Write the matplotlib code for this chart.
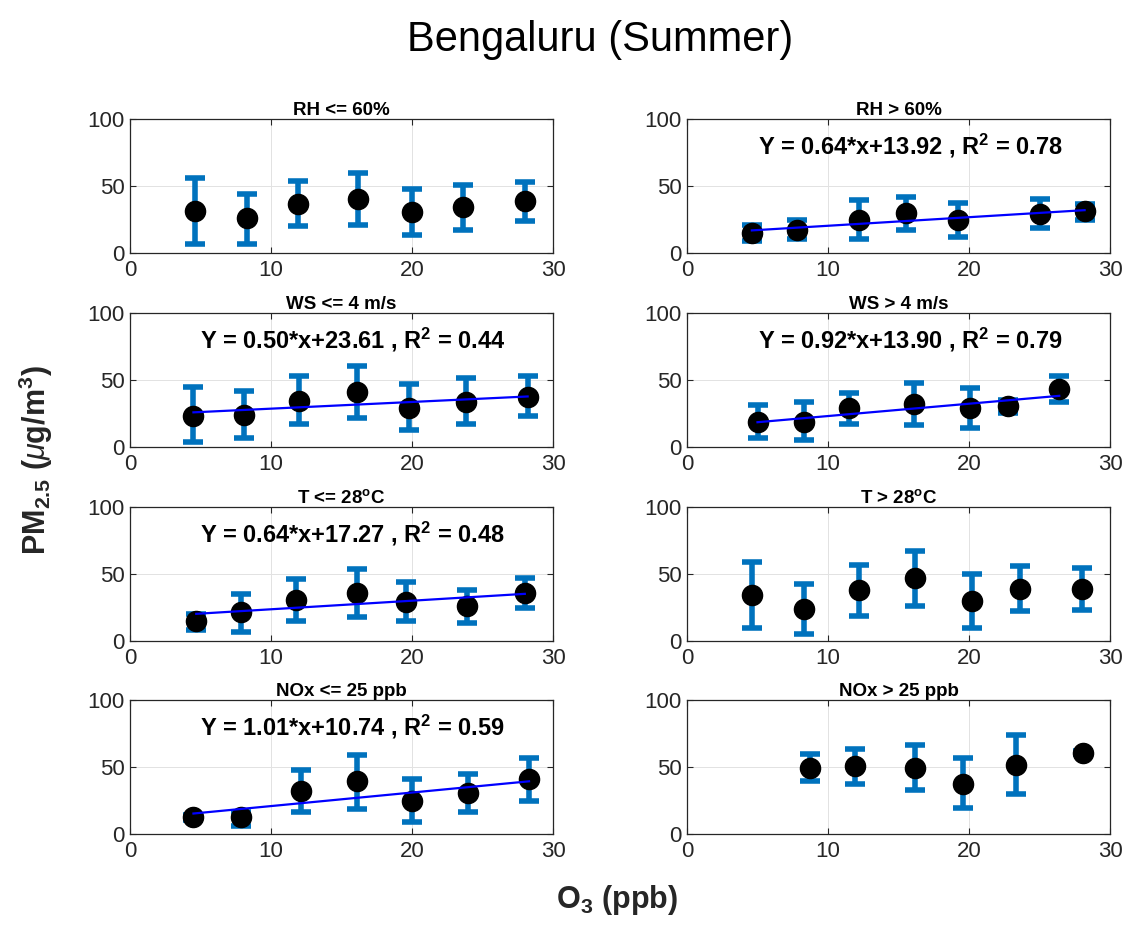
import numpy as np
import matplotlib
matplotlib.use("Agg")
import matplotlib.pyplot as plt

plt.rcParams['font.family'] = ['Liberation Sans', 'DejaVu Sans']
plt.rcParams['mathtext.fontset'] = 'custom'
plt.rcParams['mathtext.rm'] = 'Liberation Sans'
plt.rcParams['mathtext.bf'] = 'Liberation Sans:bold'
plt.rcParams['mathtext.it'] = 'Liberation Sans:italic'

# panel order: row by row, left then right
panel_titles = ["RH <= 60%", "RH > 60%",
                "WS <= 4 m/s", "WS > 4 m/s",
                r"T <= 28$^\mathbf{o}$C", r"T > 28$^\mathbf{o}$C",
                "NOx <= 25 ppb", "NOx > 25 ppb"]

o3 = [[4.6, 8.3, 11.9, 16.2, 20.0, 23.6, 28.0],
      [4.6, 7.8, 12.2, 15.5, 19.2, 25.0, 28.2],
      [4.5, 8.1, 12.0, 16.1, 19.8, 23.8, 28.2],
      [5.0, 8.3, 11.5, 16.1, 20.1, 22.8, 26.4],
      [4.7, 7.9, 11.8, 16.1, 19.6, 23.9, 28.0],
      [4.6, 8.3, 12.2, 16.2, 20.2, 23.6, 28.0],
      [4.5, 7.9, 12.1, 16.1, 20.0, 24.0, 28.3],
      [8.7, 11.9, 16.2, 19.6, 23.3, 28.1]]

pm = [[31.5, 25.8, 36.5, 40.3, 30.8, 34.0, 38.8],
      [15.0, 17.0, 25.0, 30.0, 24.5, 29.0, 31.0],
      [23.3, 23.8, 34.5, 41.3, 29.3, 33.8, 37.5],
      [18.3, 18.8, 28.8, 31.8, 28.8, 30.8, 43.0],
      [14.6, 21.4, 30.9, 35.9, 28.9, 25.9, 35.9],
      [34.2, 23.9, 37.7, 46.7, 30.2, 38.9, 38.9],
      [12.5, 12.5, 32.0, 39.3, 25.0, 30.5, 40.8],
      [49.3, 50.5, 49.3, 37.5, 51.8, 60.8]]

pm_top = [[55.8, 44.3, 54.0, 59.5, 47.8, 50.8, 52.8],
          [20.8, 24.5, 39.5, 41.5, 37.0, 40.3, 36.5],
          [45.0, 41.8, 53.3, 60.5, 46.8, 51.3, 53.0],
          [31.3, 33.8, 40.0, 47.5, 43.8, 35.0, 53.3],
          [20.1, 35.4, 46.0, 53.5, 44.2, 37.7, 46.7],
          [59.3, 42.7, 56.5, 67.3, 50.3, 56.0, 54.3],
          [14.5, 16.3, 48.0, 58.8, 41.3, 44.5, 56.8],
          [60.0, 63.3, 66.3, 57.0, 73.8, 61.8]]

pm_bot = [[7.0, 6.5, 20.0, 20.8, 13.3, 17.5, 24.0],
          [9.0, 10.3, 10.8, 17.5, 12.0, 18.8, 24.5],
          [3.8, 6.8, 16.8, 21.3, 12.5, 16.8, 23.0],
          [6.8, 5.0, 16.8, 16.3, 14.3, 25.0, 33.3],
          [8.3, 7.0, 15.0, 17.6, 14.6, 13.3, 24.6],
          [9.5, 5.3, 18.8, 25.9, 9.5, 22.1, 23.4],
          [10.5, 6.3, 16.3, 18.8, 8.8, 16.3, 24.5],
          [39.3, 37.5, 32.5, 19.3, 30.0, 59.8]]

# regression (slope, intercept, R^2) or None
fits = [None, (0.64, 13.92, 0.78),
        (0.50, 23.61, 0.44), (0.92, 13.90, 0.79),
        (0.64, 17.27, 0.48), None,
        (1.01, 10.74, 0.59), None]

W, H = 1126, 925
fig = plt.figure(figsize=(W / 100, H / 100), dpi=100)

col_left = [130, 687]
row_top = [119, 313, 507, 700]
ax_w, ax_h = 423, 134

bar_col = '#0072BD'
txt_col = '#262626'

for i in range(8):
    r, c = divmod(i, 2)
    ax = fig.add_axes([col_left[c] / W, 1 - (row_top[r] + ax_h) / H, ax_w / W, ax_h / H])
    x = np.array(o3[i])
    y = np.array(pm[i])
    yerr = [y - np.array(pm_bot[i]), np.array(pm_top[i]) - y]
    ax.errorbar(x, y, yerr=yerr, fmt='none', ecolor=bar_col, elinewidth=4,
                capsize=7.5, capthick=4, zorder=2)
    ax.plot(x, y, 'o', color='black', markersize=14.5, zorder=3)
    if fits[i] is not None:
        a, b, r2 = fits[i]
        xf = np.array([x.min(), x.max()])
        ax.plot(xf, a * xf + b, color='#0000FF', linewidth=1.6, zorder=4)
        ax.text(5, 80, f"Y = {a:.2f}*x+{b:.2f} , R$^\\mathbf{{2}}$ = {r2:.2f}",
                fontsize=17, fontweight='bold', va='center', ha='left', zorder=5)
    ax.set_xlim(0, 30)
    ax.set_ylim(0, 100)
    ax.set_xticks([0, 10, 20, 30])
    ax.set_yticks([0, 50, 100])
    ax.grid(True, color='#e2e2e2', linewidth=0.7)
    ax.set_axisbelow(True)
    ax.tick_params(direction='in', length=4, width=0.8, labelsize=16,
                   colors=txt_col, top=True, right=True)
    ax.tick_params(axis='x', pad=5)
    ax.tick_params(axis='y', pad=4)
    for s in ax.spines.values():
        s.set_color(txt_col)
        s.set_linewidth(0.9)
    ax.set_title(panel_titles[i], fontsize=13.5, fontweight='bold', pad=3)

fig.text(600 / W, 1 - 40 / H, "Bengaluru (Summer)", fontsize=30, ha='center', va='center')
fig.text(36 / W, 1 - 460 / H, r"PM$_\mathbf{2.5}$ ($\mu$g/m$^\mathbf{3}$)", fontsize=22,
         fontweight='bold', rotation=90, ha='center', va='center', color=txt_col)
fig.text(617 / W, 1 - 900 / H, r"O$_\mathbf{3}$ (ppb)", fontsize=22, fontweight='bold',
         ha='center', va='center', color=txt_col)

fig.savefig("out.png", dpi=100)
